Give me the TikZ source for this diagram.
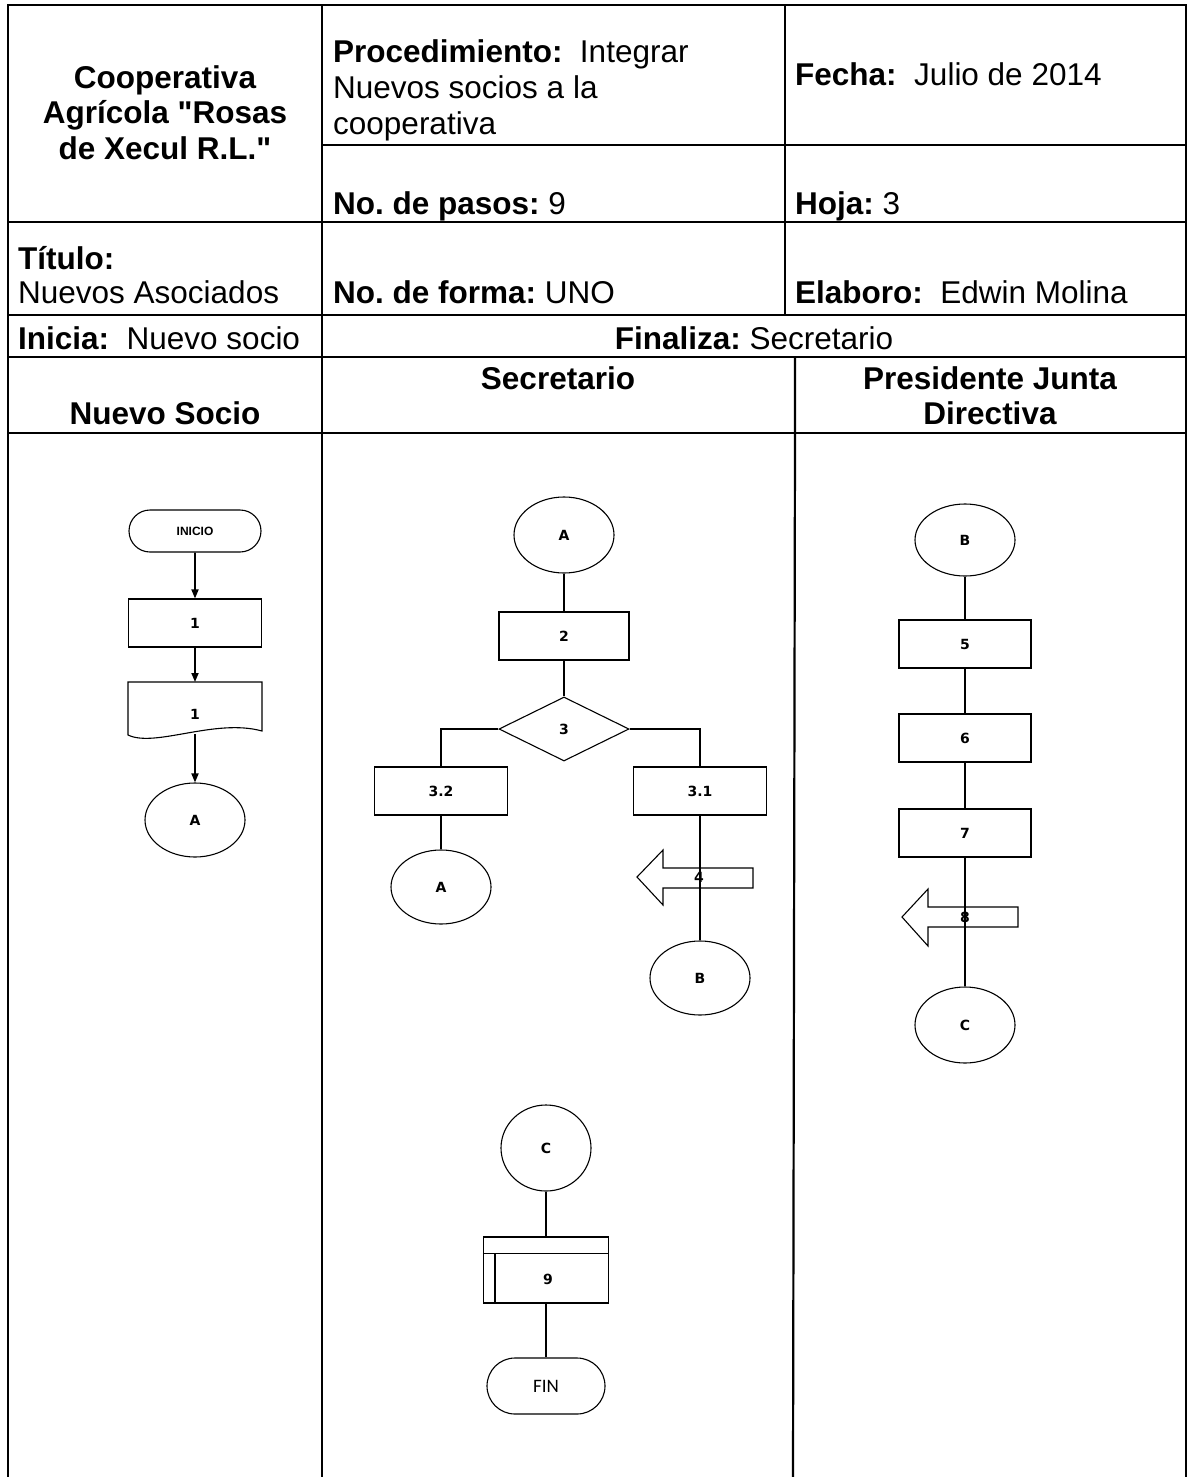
\documentclass[tikz,border=0pt]{standalone}
\usepackage{fontspec}
\setmainfont{Liberation Sans}[Ligatures=TeXOff]
\newfontfamily\dvfont{DejaVu Sans}
\newfontfamily\clfont{Carlito}
\usetikzlibrary{shapes.geometric,shapes.misc,arrows.meta}
\frenchspacing
\begin{document}
\begin{tikzpicture}[x=1pt,y=-1pt,
  tline/.style={line width=2.2pt},
  big/.style={font=\fontsize{31.5}{36}\selectfont, inner sep=0pt},
  bigb/.style={font=\fontsize{31.5}{36}\selectfont\bfseries, inner sep=0pt},
  shpline/.style={line width=1.1pt},
  shp/.style={draw, shpline, inner sep=0pt, font=\dvfont\bfseries\fontsize{14}{16}\selectfont},
  proc/.style={shp, rectangle, minimum width=133pt, minimum height=48pt},
  conn/.style={shp, ellipse, minimum width=100pt, minimum height=74pt},
  term/.style={shp, rounded rectangle},
  lbl/.style={inner sep=0pt, font=\dvfont\bfseries\fontsize{14}{16}\selectfont},
  flow/.style={line width=1.7pt},
  flowarr/.style={flow, -{Triangle[length=9pt,width=7pt]}}
]
\useasboundingbox (0,0) rectangle (1190,1477);
\fill[white] (0,0) rectangle (1190,1477);

% ---------- table frame ----------
\draw[tline] (8,1477) -- (8,5) -- (1186,5) -- (1186,1477);
\draw[tline] (322,145) -- (1186,145);
\draw[tline] (8,222) -- (1186,222);
\draw[tline] (8,315) -- (1186,315);
\draw[tline] (8,357) -- (1186,357);
\draw[tline] (8,433) -- (1186,433);
\draw[tline] (322,5) -- (322,1477);
\draw[tline] (785,5) -- (785,315);
\draw[tline] (795,357) -- (795,433) -- (793,1477);

% ---------- table texts ----------
\node[bigb, anchor=base] (coop1) at (165,89) {Cooperativa};
\node[bigb, anchor=base] (coop2) at (165,124) {Agrícola "Rosas};
\node[bigb, anchor=base] (coop3) at (165,159) {de Xecul R.L."};
\node[big, anchor=base west] (proc1) at (333,63) {\textbf{Procedimiento:}~~Integrar};
\node[big, anchor=base west] (proc2) at (333,99) {Nuevos socios a la};
\node[big, anchor=base west] (proc3) at (333,135) {cooperativa};
\node[big, anchor=base west] (fecha) at (795,86) {\textbf{Fecha:}~~Julio de 2014};
\node[big, anchor=base west] (pasos) at (333,214) {\textbf{No. de pasos:} 9};
\node[big, anchor=base west] (hoja) at (795,214) {\textbf{Hoja:} 3};
\node[bigb, anchor=base west] (tit1) at (18,269) {Título:};
\node[big, anchor=base west] (tit2) at (18,303) {Nuevos Asociados};
\node[big, anchor=base west] (forma) at (333,303) {\textbf{No. de forma:} UNO};
\node[big, anchor=base west] (elab) at (795,303) {\textbf{Elaboro:}~~Edwin Molina};
\node[big, anchor=base west] (inicia) at (18,349) {\textbf{Inicia:}~~Nuevo socio};
\node[big, anchor=base] (final) at (754,349) {\textbf{Finaliza:} Secretario};
\node[bigb, anchor=base] (hnue) at (165,424) {Nuevo Socio};
\node[bigb, anchor=base] (hsec) at (558,389) {Secretario};
\node[bigb, anchor=base] (hpre1) at (990,389) {Presidente Junta};
\node[bigb, anchor=base] (hpre2) at (990,424) {Directiva};

% ---------- lane: Nuevo Socio ----------
\node[term, font=\normalfont\bfseries\fontsize{12}{14}\selectfont, minimum width=132pt, minimum height=42pt] (inicio) at (195,531) {INICIO};
\node[proc] (n1) at (195,623) {1};
\draw[shpline] (128,682) -- (262,682) -- (262,731) .. controls (215,718) and (155,748) .. (128,735) -- cycle;
\node[lbl] (doc1) at (195,714) {1};
\coordinate (docTop) at (195,682);
\coordinate (docBot) at (195,734);
\node[conn] (na) at (195,820) {A};
\draw[flowarr] (inicio) -- (n1);
\draw[flowarr] (n1) -- (docTop);
\draw[flowarr] (docBot) -- (na);

% ---------- lane: Secretario ----------
\node[conn, minimum height=76pt] (sa) at (564,535) {A};
\node[proc, minimum width=130pt] (s2) at (564,636) {2};
\node[shp, diamond, aspect=2, minimum width=130pt, minimum height=64pt] (s3) at (564,729) {3};
\node[proc] (s32) at (441,791) {3.2};
\node[proc] (s31) at (700,791) {3.1};
\node[conn] (sa2) at (441,887) {A};
\node[conn] (sb) at (700,978) {B};
\draw[flow] (sa) -- (s2);
\draw[flow] (s2) -- (s3);
\draw[flow] (s3.west) -| (s32.north);
\draw[flow] (s3.east) -| (s31.north);
\draw[flow] (s32) -- (sa2);
\draw[flow] (s31) -- (sb);
\draw[shpline] (753,868) -- (663,868) -- (663,850) -- (637,877) -- (663,905) -- (663,888) -- (753,888) -- cycle;
\node[lbl] (s4) at (699,877) {4};

\node[conn, minimum width=90pt, minimum height=86pt] (sc) at (546,1148) {C};
\node[shp, rectangle, minimum width=125pt, minimum height=66pt] (s9) at (546,1270) {};
\draw[shpline] ([yshift=-17pt]s9.north west) -- ([yshift=-17pt]s9.north east);
\draw[shpline] ([xshift=12pt,yshift=-17pt]s9.north west) -- ([xshift=12pt]s9.south west);
\node[lbl] (s9t) at (548,1279) {9};
\node[term, font=\clfont\fontsize{19}{22}\selectfont, minimum width=118pt, minimum height=56pt] (fin) at (546,1386) {FIN};
\draw[flow] (sc) -- (s9);
\draw[flow] (s9) -- (fin);

% ---------- lane: Presidente ----------
\node[conn, minimum height=72pt] (pb) at (965,540) {B};
\node[proc, minimum width=132pt] (p5) at (965,644) {5};
\node[proc, minimum width=132pt] (p6) at (965,738) {6};
\node[proc, minimum width=132pt] (p7) at (965,833) {7};
\node[conn, minimum height=76pt] (pc) at (965,1025) {C};
\draw[flow] (pb) -- (p5);
\draw[flow] (p5) -- (p6);
\draw[flow] (p6) -- (p7);
\draw[flow] (p7) -- (pc);
\draw[shpline] (1018,907) -- (928,907) -- (928,889) -- (902,917) -- (928,946) -- (928,927) -- (1018,927) -- cycle;
\node[lbl] (p8) at (965,917) {8};
\end{tikzpicture}
\end{document}
